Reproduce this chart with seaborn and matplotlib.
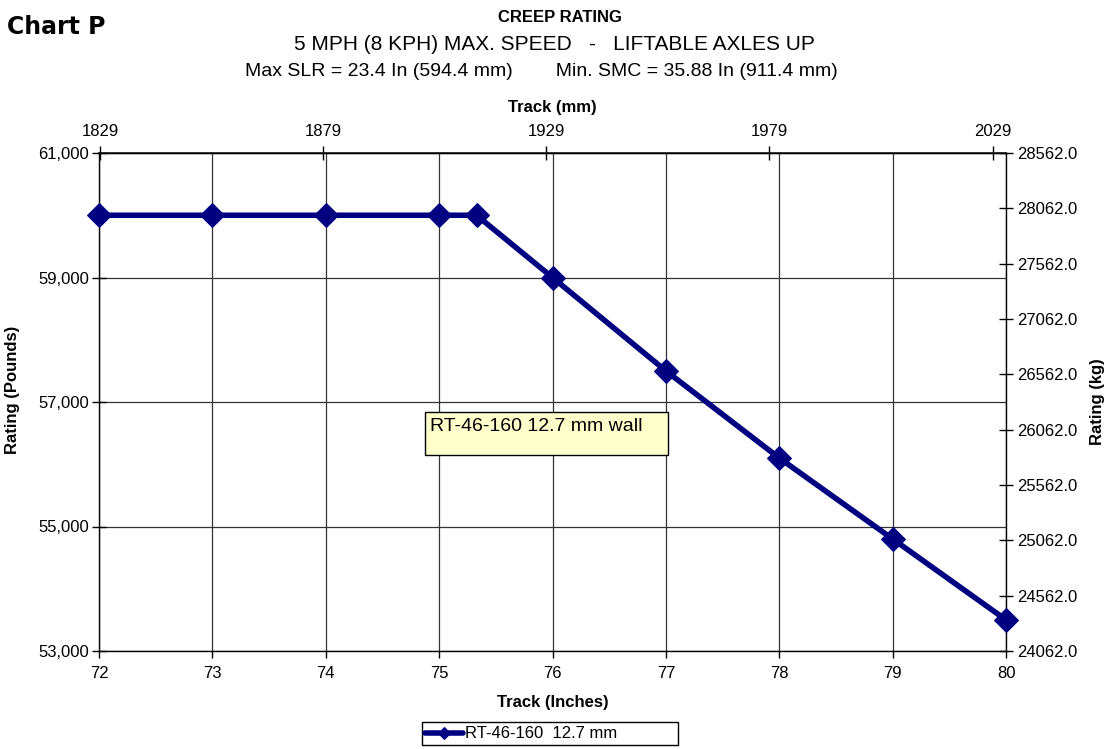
import matplotlib
matplotlib.use("Agg")
import matplotlib.pyplot as plt
from matplotlib.patches import Rectangle
from matplotlib.ticker import FuncFormatter, FixedLocator, MultipleLocator
import seaborn as sns
import pandas as pd

# Creep rating data
track_in = [72, 73, 74, 75, 75.33, 76, 77, 78, 79, 80]
rating_lb = [60000, 60000, 60000, 60000, 60000, 59000, 57500, 56100, 54800, 53500]
series_label = "RT-46-160  12.7 mm"
note_text = "RT-46-160 12.7 mm wall"
mm_ticks = [1829, 1879, 1929, 1979, 2029]
kg_ticks = [24062.0, 24562.0, 25062.0, 25562.0, 26062.0, 26562.0, 27062.0, 27562.0, 28062.0, 28562.0]
lb_ticks = [53000, 55000, 57000, 59000, 61000]

sns.set_theme(style="white")
plt.rcParams["font.family"] = ["Liberation Sans", "DejaVu Sans"]
plt.rcParams.update({"text.color": "black", "axes.labelcolor": "black",
                     "xtick.color": "black", "ytick.color": "black"})

W, H = 1110, 749


def fx(px):
    return px / W


def fy(py):
    return 1 - py / H


df = pd.DataFrame({"track": track_in, "rating": rating_lb})

fig = plt.figure(figsize=(W / 100, H / 100), dpi=100)
ax = fig.add_axes([fx(99), fy(651), 907 / W, 498 / H])

sns.lineplot(data=df, x="track", y="rating", ax=ax, color="#000080",
             linewidth=4, marker="D", markersize=12, markeredgecolor="#000080",
             label=series_label, legend=False)
for ln in ax.lines:
    ln.set_clip_on(False)
    ln.set_zorder(5)

ax.set_xlim(72, 80)
ax.set_ylim(53000, 61000)
ax.xaxis.set_major_locator(MultipleLocator(1))
ax.yaxis.set_major_locator(FixedLocator(lb_ticks))
ax.yaxis.set_major_formatter(FuncFormatter(lambda v, p: f"{int(v):,}"))
ax.grid(True, color="#333333", linewidth=0.9)
ax.set_axisbelow(True)
for s in ax.spines.values():
    s.set_color("black")
    s.set_linewidth(1.0)
ax.tick_params(axis="y", which="major", direction="inout", length=10, width=1,
               labelsize=12, pad=2, left=True)
ax.tick_params(axis="x", which="major", direction="out", length=5, width=1,
               labelsize=12, pad=6, bottom=True)
ax.set_xlabel("Track (Inches)", fontsize=12, fontweight="bold", labelpad=10)
ax.set_ylabel("Rating (Pounds)", fontsize=12, fontweight="bold", labelpad=13)
ax.yaxis.label.set_y(0.524)

# Secondary scales: mm across the top, kg on the right
top = ax.secondary_xaxis("top", functions=(lambda x: x * 25.4, lambda m: m / 25.4))
top.xaxis.set_major_locator(FixedLocator(mm_ticks))
top.tick_params(direction="inout", length=10, width=1, labelsize=12, pad=5)
top.set_xlabel("Track (mm)", fontsize=12, fontweight="bold", labelpad=9)

right = ax.twinx()
right.set_ylim(24062.0, 28562.0)
right.yaxis.set_major_locator(FixedLocator(kg_ticks))
right.yaxis.set_major_formatter(FuncFormatter(lambda v, p: f"{v:.1f}"))
right.tick_params(axis="y", direction="inout", length=10, width=1,
                  labelsize=12, right=True, pad=3)
right.grid(False)
right.set_ylabel("Rating (kg)", fontsize=12, fontweight="bold", labelpad=9)
for s in right.spines.values():
    s.set_visible(False)

# Note box
fig.patches.append(Rectangle((fx(425), fy(455)), (668 - 425) / W, (455 - 412) / H,
                             transform=fig.transFigure, facecolor="#FFFFCC",
                             edgecolor="black", linewidth=1, zorder=6))
fig.text(fx(430), fy(427), note_text, fontsize=14, ha="left", va="center", zorder=7)

# Titles
fig.text(fx(560), fy(17), "CREEP RATING", ha="center", va="center",
         fontsize=12, fontweight="bold")
fig.text(fx(554), fy(45), "5 MPH (8 KPH) MAX. SPEED   -   LIFTABLE AXLES UP",
         ha="center", va="center", fontsize=15)
fig.text(fx(541), fy(72), "Max SLR = 23.4 In (594.4 mm)        Min. SMC = 35.88 In (911.4 mm)",
         ha="center", va="center", fontsize=14)
fig.text(fx(7), fy(27), "Chart P", ha="left", va="center",
         fontsize=17, fontweight="heavy", family=["DejaVu Sans"])

# Legend below the plot
fig.patches.append(Rectangle((fx(422), fy(745)), (678 - 422) / W, (745 - 722) / H,
                             transform=fig.transFigure, facecolor="white",
                             edgecolor="black", linewidth=1, zorder=1))
handles, labels = ax.get_legend_handles_labels()
leg = fig.legend(handles, labels, loc="center left", bbox_to_anchor=(fx(425), fy(734)),
                 frameon=False, fontsize=12, handlelength=2.3,
                 handletextpad=0.1, borderpad=0.0, borderaxespad=0.0, markerscale=0.55)
leg.set_zorder(3)

fig.savefig("out.png", dpi=100)
